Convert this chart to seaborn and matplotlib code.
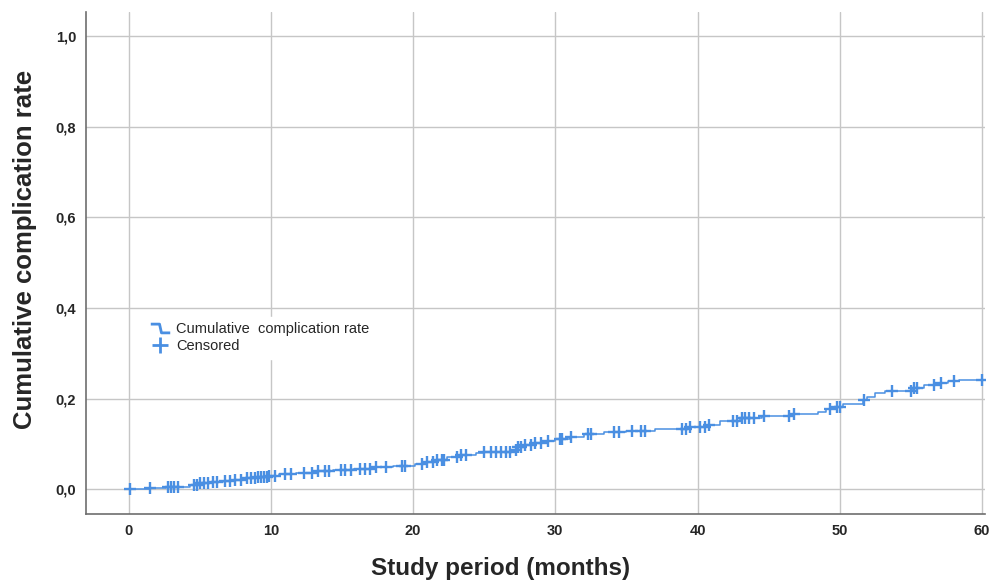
import numpy as np
import pandas as pd
import seaborn as sns
import matplotlib.pyplot as plt
from matplotlib.lines import Line2D
from matplotlib.path import Path

# event times (months) and cumulative complication rate after each step
event_months = [0, 1.5, 2.6, 4.3, 5.0, 5.8, 6.6, 7.4, 8.2, 9.0, 9.8, 10.6, 11.8, 13.0,
                14.4, 15.8, 17.2, 18.6, 20.1, 20.8, 21.6, 22.4, 23.3, 24.4, 25.0, 27.0,
                27.3, 27.8, 28.6, 29.4, 30.0, 31.0, 32.0, 33.4, 35.0, 37.0, 39.5, 40.6,
                41.6, 43.0, 44.5, 46.5, 48.5, 49.0, 49.6, 50.2, 51.6, 51.9, 52.5, 53.2,
                55.1, 55.9, 56.8, 57.6, 58.4, 60.0]
event_rate = [0.0, 0.002, 0.004, 0.010, 0.013, 0.016, 0.019, 0.021, 0.024, 0.027, 0.030,
              0.033, 0.036, 0.039, 0.043, 0.045, 0.048, 0.050, 0.055, 0.060, 0.064, 0.070,
              0.075, 0.079, 0.082, 0.087, 0.093, 0.097, 0.101, 0.106, 0.111, 0.116, 0.121,
              0.126, 0.128, 0.133, 0.137, 0.142, 0.150, 0.156, 0.161, 0.165, 0.170, 0.177,
              0.182, 0.188, 0.196, 0.204, 0.212, 0.217, 0.224, 0.230, 0.235, 0.238, 0.241,
              0.241]

# censored observations (months)
censored_months = [0.1, 1.5, 2.8, 3.0, 3.2, 3.5, 4.6, 4.8, 5.0, 5.3, 5.6, 5.9, 6.2, 6.8,
                   7.1, 7.5, 7.9, 8.3, 8.6, 8.9, 9.1, 9.3, 9.5, 9.7, 9.9, 10.3, 11.0, 11.4,
                   12.3, 12.9, 13.3, 13.8, 14.1, 14.9, 15.2, 15.6, 16.3, 16.6, 17.0, 17.4,
                   18.1, 19.2, 19.4, 20.6, 21.0, 21.4, 21.7, 22.0, 22.2, 23.1, 23.4, 23.7,
                   25.0, 25.5, 25.8, 26.2, 26.5, 26.8, 27.2, 27.4, 27.6, 27.9, 28.3, 28.6,
                   29.0, 29.5, 30.3, 30.5, 31.1, 32.3, 32.5, 34.1, 34.5, 35.4, 36.0, 36.3,
                   38.9, 39.2, 39.5, 40.2, 40.5, 40.8, 42.5, 42.8, 43.1, 43.3, 43.6, 44.0,
                   44.7, 46.4, 46.8, 49.3, 49.8, 50.0, 51.7, 53.7, 55.0, 55.2, 55.4, 56.6,
                   57.1, 58.0, 60.0]

x_ticks = [0, 10, 20, 30, 40, 50, 60]
y_ticks = [0.0, 0.2, 0.4, 0.6, 0.8, 1.0]
y_tick_labels = ['0,0', '0,2', '0,4', '0,6', '0,8', '1,0']

BLUE = '#4a8fe2'

df_curve = pd.DataFrame({'month': event_months, 'rate': event_rate})
# censored marks sit on the step curve
idx = np.searchsorted(df_curve['month'].values, censored_months, side='right') - 1
df_cens = pd.DataFrame({'month': censored_months,
                        'rate': df_curve['rate'].values[idx]})

sns.set_style('whitegrid')
plt.rcParams['font.family'] = ['Liberation Sans', 'DejaVu Sans']

fig = plt.figure(figsize=(10.01, 5.82), dpi=100)
ax = fig.add_axes([0.0859, 0.1168, 0.898, 0.8622])

sns.lineplot(data=df_curve, x='month', y='rate', drawstyle='steps-post',
             estimator=None, color=BLUE, linewidth=1.1, ax=ax, zorder=3)
sns.scatterplot(data=df_cens, x='month', y='rate', marker='+', s=75,
                linewidth=1.7, color=BLUE, ax=ax, zorder=4)

ax.set_xlim(-3.0, 60.2)
ax.set_ylim(-0.055, 1.053)
ax.set_xticks(x_ticks)
ax.set_yticks(y_ticks)
ax.set_yticklabels(y_tick_labels)
ax.tick_params(length=0, labelsize=10.5, pad=7)
for lab in ax.get_xticklabels() + ax.get_yticklabels():
    lab.set_fontweight('bold')

ax.grid(True, color='#c6c6c6', linewidth=1.0)
for side in ['top', 'right']:
    ax.spines[side].set_visible(False)
for side in ['left', 'bottom']:
    ax.spines[side].set_color('#6e6e6e')
    ax.spines[side].set_linewidth(1.2)

ax.set_xlabel('Study period (months)', fontsize=17.5, fontweight='bold')
ax.set_ylabel('Cumulative complication rate', fontsize=18.5, fontweight='bold')
ax.xaxis.set_label_coords(0.4616, -0.085)
ax.yaxis.set_label_coords(-0.055, 0.528)

# legend with a step-shaped icon
step_path = Path([(-1.0, 0.45), (-0.1, 0.45), (0.1, -0.45), (1.0, -0.45)])
handles = [
    Line2D([], [], linestyle='none', marker=step_path, markersize=14,
           markerfacecolor='none', markeredgecolor=BLUE, markeredgewidth=2),
    Line2D([], [], linestyle='none', marker='+', markersize=11,
           markeredgecolor=BLUE, markeredgewidth=2),
]
leg = ax.legend(handles, ['Cumulative  complication rate', 'Censored'],
                loc='upper left', bbox_to_anchor=(0.058, 0.408), fontsize=10.5,
                frameon=True, fancybox=False, handlelength=1.2, handletextpad=0.5,
                labelspacing=0.2, borderpad=0.4)
leg.get_frame().set_edgecolor('white')
leg.get_frame().set_facecolor('white')
leg.get_frame().set_alpha(1.0)
leg.set_zorder(5)

fig.savefig('out.png', dpi=100)
